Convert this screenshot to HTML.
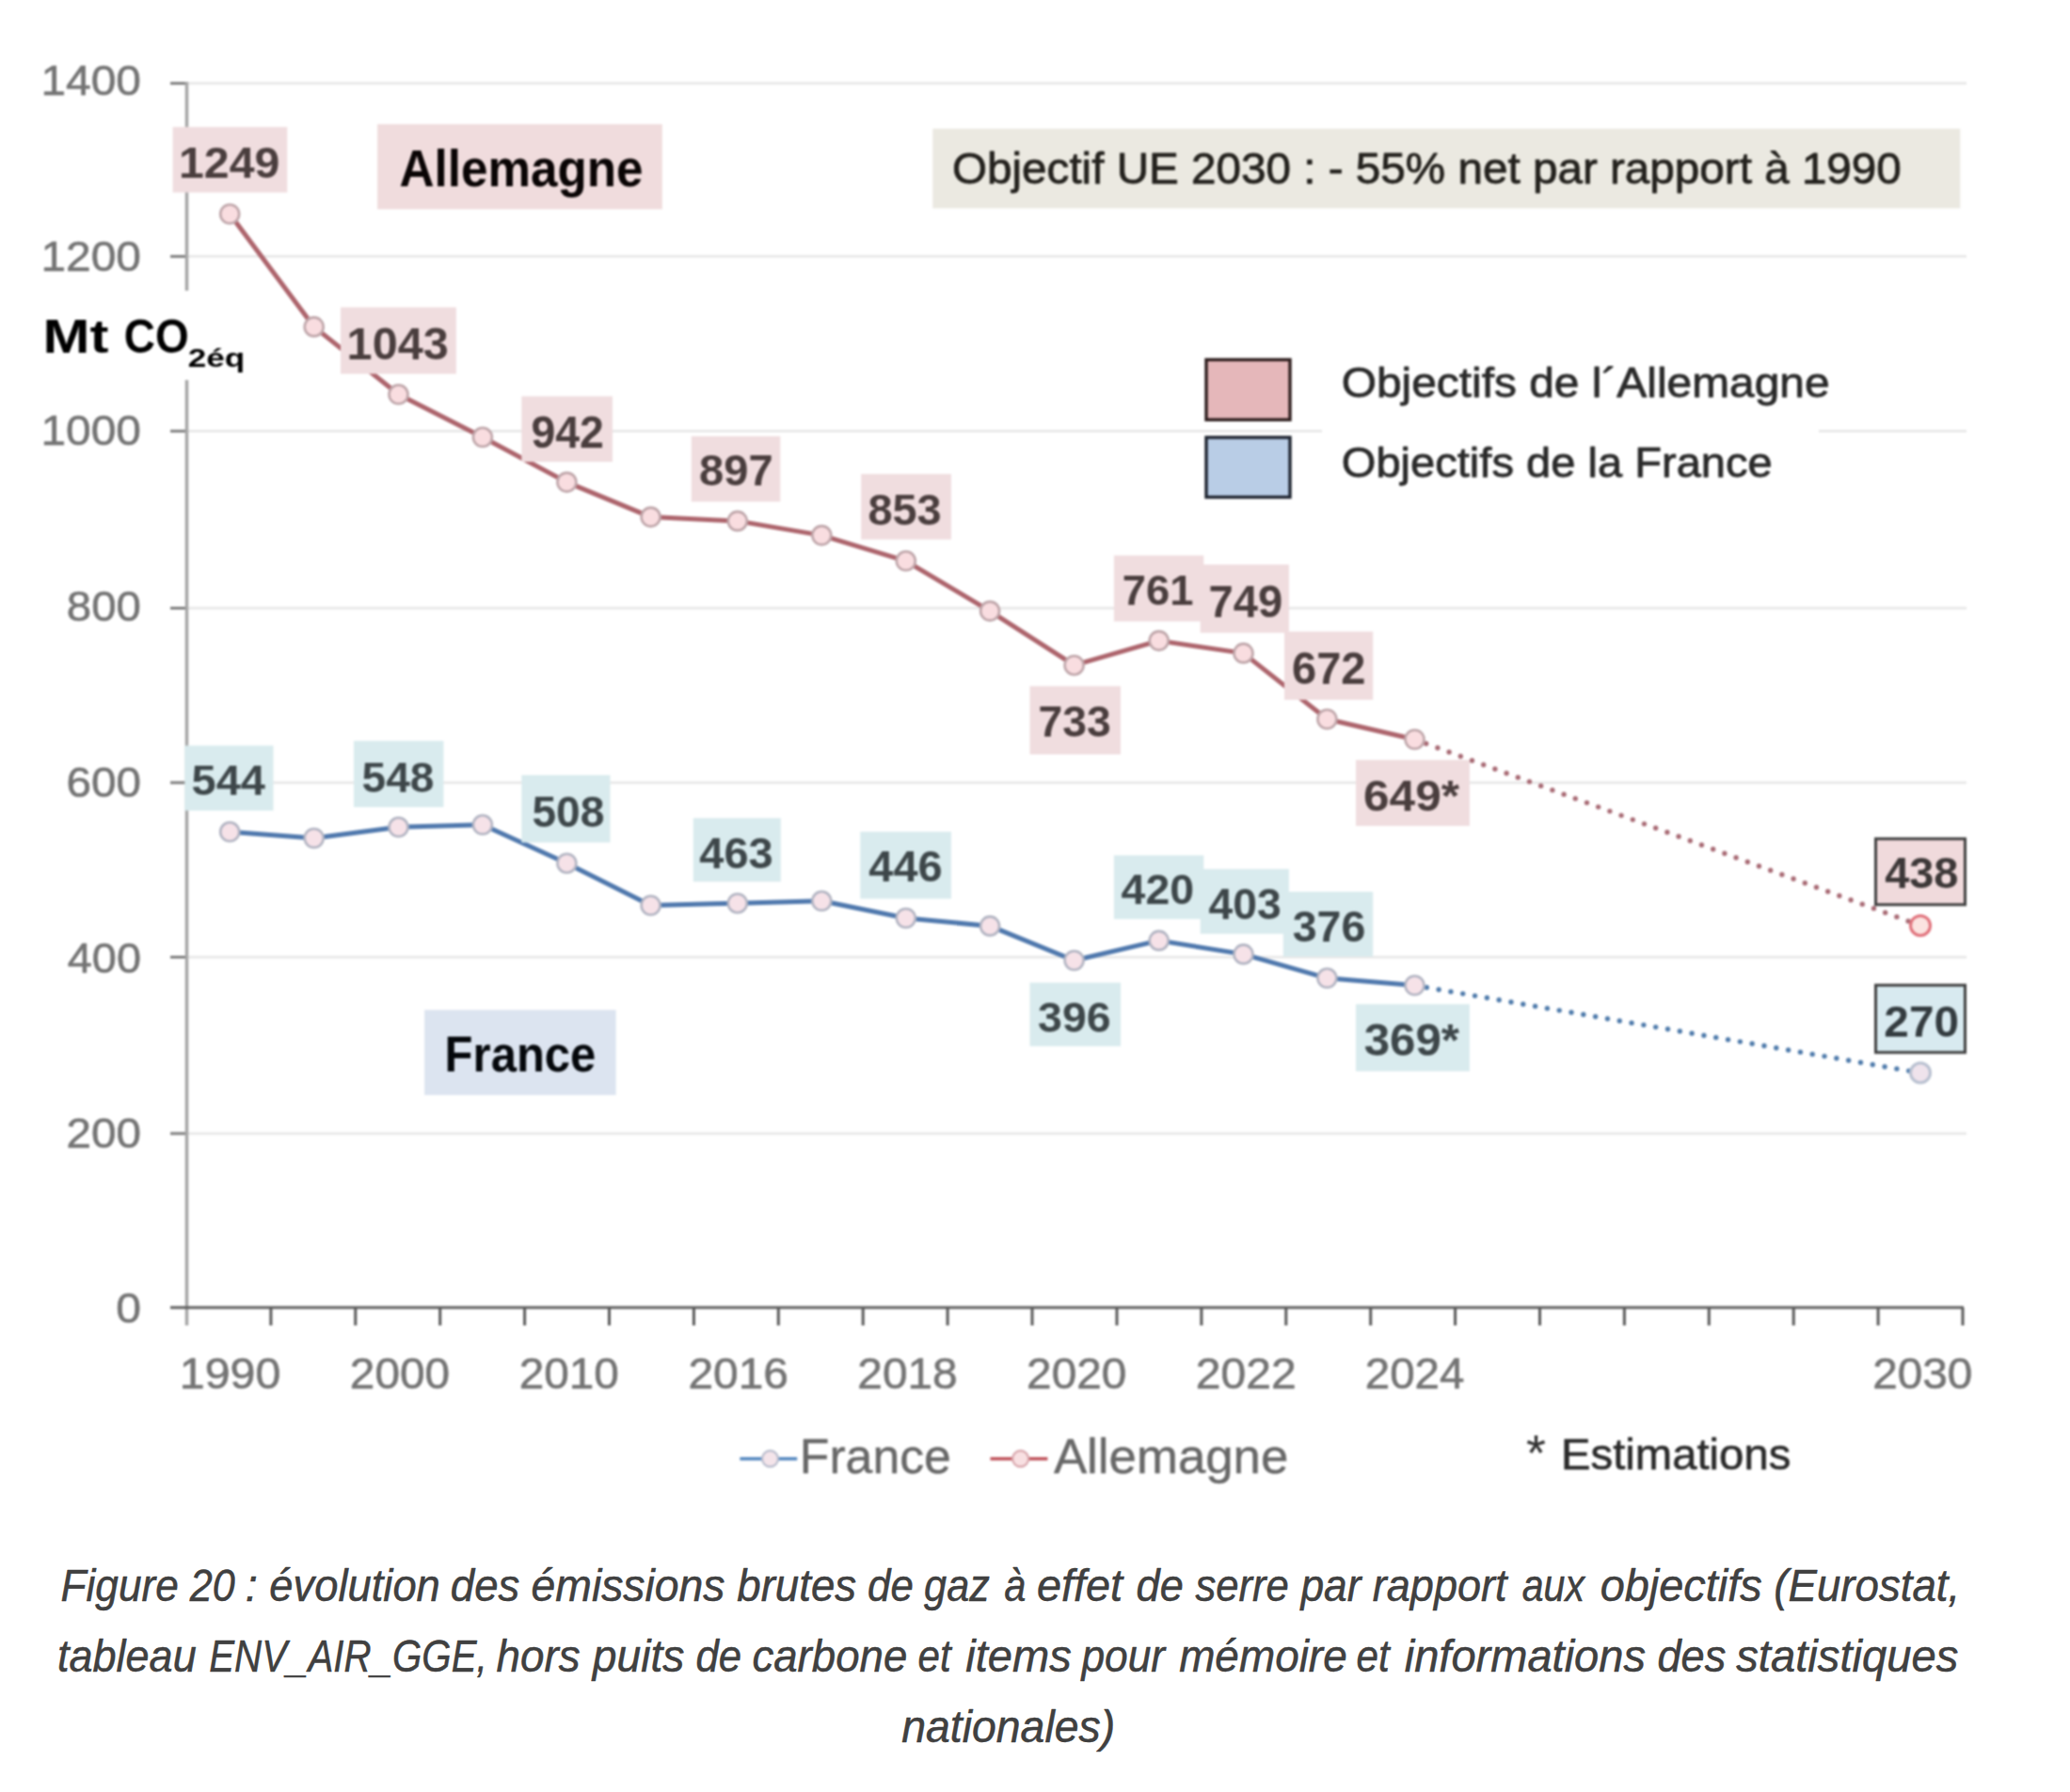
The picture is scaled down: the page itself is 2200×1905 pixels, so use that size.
<!DOCTYPE html>
<html><head><meta charset="utf-8"><style>
html,body{margin:0;padding:0;background:#ffffff;}
body{width:2200px;height:1905px;overflow:hidden;position:relative;}
svg{display:block;position:absolute;left:0;top:0;font-family:"Liberation Sans",sans-serif;}
#chart{filter:blur(1.2px);}
</style></head><body>
<svg id="chart" width="2200" height="1905" viewBox="0 0 2200 1905">
<rect width="2200" height="1905" fill="#ffffff"/>
<line x1="198.5" y1="88.6" x2="2090" y2="88.6" stroke="#e6e6e6" stroke-width="2.5"/>
<line x1="181" y1="88.6" x2="198.5" y2="88.6" stroke="#7f7f7f" stroke-width="3"/>
<line x1="198.5" y1="272.6" x2="2090" y2="272.6" stroke="#e6e6e6" stroke-width="2.5"/>
<line x1="181" y1="272.6" x2="198.5" y2="272.6" stroke="#7f7f7f" stroke-width="3"/>
<line x1="198.5" y1="458.3" x2="2090" y2="458.3" stroke="#e6e6e6" stroke-width="2.5"/>
<line x1="181" y1="458.3" x2="198.5" y2="458.3" stroke="#7f7f7f" stroke-width="3"/>
<line x1="198.5" y1="646.5" x2="2090" y2="646.5" stroke="#e6e6e6" stroke-width="2.5"/>
<line x1="181" y1="646.5" x2="198.5" y2="646.5" stroke="#7f7f7f" stroke-width="3"/>
<line x1="198.5" y1="832.0" x2="2090" y2="832.0" stroke="#e6e6e6" stroke-width="2.5"/>
<line x1="181" y1="832.0" x2="198.5" y2="832.0" stroke="#7f7f7f" stroke-width="3"/>
<line x1="198.5" y1="1017.5" x2="2090" y2="1017.5" stroke="#e6e6e6" stroke-width="2.5"/>
<line x1="181" y1="1017.5" x2="198.5" y2="1017.5" stroke="#7f7f7f" stroke-width="3"/>
<line x1="198.5" y1="1205.0" x2="2090" y2="1205.0" stroke="#e6e6e6" stroke-width="2.5"/>
<line x1="181" y1="1205.0" x2="198.5" y2="1205.0" stroke="#7f7f7f" stroke-width="3"/>
<line x1="198.5" y1="87" x2="198.5" y2="1409" stroke="#a6a6a6" stroke-width="3.5"/>
<line x1="181" y1="1390.0" x2="2087" y2="1390.0" stroke="#606060" stroke-width="3"/>
<line x1="287.9" y1="1390.0" x2="287.9" y2="1409" stroke="#5a5a5a" stroke-width="3"/>
<line x1="377.8" y1="1390.0" x2="377.8" y2="1409" stroke="#5a5a5a" stroke-width="3"/>
<line x1="467.7" y1="1390.0" x2="467.7" y2="1409" stroke="#5a5a5a" stroke-width="3"/>
<line x1="557.6" y1="1390.0" x2="557.6" y2="1409" stroke="#5a5a5a" stroke-width="3"/>
<line x1="647.5" y1="1390.0" x2="647.5" y2="1409" stroke="#5a5a5a" stroke-width="3"/>
<line x1="737.4" y1="1390.0" x2="737.4" y2="1409" stroke="#5a5a5a" stroke-width="3"/>
<line x1="827.3" y1="1390.0" x2="827.3" y2="1409" stroke="#5a5a5a" stroke-width="3"/>
<line x1="917.2" y1="1390.0" x2="917.2" y2="1409" stroke="#5a5a5a" stroke-width="3"/>
<line x1="1007.1" y1="1390.0" x2="1007.1" y2="1409" stroke="#5a5a5a" stroke-width="3"/>
<line x1="1097.0" y1="1390.0" x2="1097.0" y2="1409" stroke="#5a5a5a" stroke-width="3"/>
<line x1="1187.0" y1="1390.0" x2="1187.0" y2="1409" stroke="#5a5a5a" stroke-width="3"/>
<line x1="1276.9" y1="1390.0" x2="1276.9" y2="1409" stroke="#5a5a5a" stroke-width="3"/>
<line x1="1366.8" y1="1390.0" x2="1366.8" y2="1409" stroke="#5a5a5a" stroke-width="3"/>
<line x1="1456.7" y1="1390.0" x2="1456.7" y2="1409" stroke="#5a5a5a" stroke-width="3"/>
<line x1="1546.6" y1="1390.0" x2="1546.6" y2="1409" stroke="#5a5a5a" stroke-width="3"/>
<line x1="1636.5" y1="1390.0" x2="1636.5" y2="1409" stroke="#5a5a5a" stroke-width="3"/>
<line x1="1726.4" y1="1390.0" x2="1726.4" y2="1409" stroke="#5a5a5a" stroke-width="3"/>
<line x1="1816.3" y1="1390.0" x2="1816.3" y2="1409" stroke="#5a5a5a" stroke-width="3"/>
<line x1="1906.2" y1="1390.0" x2="1906.2" y2="1409" stroke="#5a5a5a" stroke-width="3"/>
<line x1="1996.1" y1="1390.0" x2="1996.1" y2="1409" stroke="#5a5a5a" stroke-width="3"/>
<line x1="2086.0" y1="1390.0" x2="2086.0" y2="1409" stroke="#5a5a5a" stroke-width="3"/>
<text x="43.45" y="100.80" font-size="45.20" textLength="106.52" lengthAdjust="spacingAndGlyphs" fill="#747474" stroke="#747474" stroke-width="0.60" stroke-linejoin="round" >1400</text>
<text x="43.45" y="287.80" font-size="45.20" textLength="106.52" lengthAdjust="spacingAndGlyphs" fill="#747474" stroke="#747474" stroke-width="0.60" stroke-linejoin="round" >1200</text>
<text x="43.45" y="473.40" font-size="45.20" textLength="106.52" lengthAdjust="spacingAndGlyphs" fill="#747474" stroke="#747474" stroke-width="0.60" stroke-linejoin="round" >1000</text>
<text x="70.84" y="660.40" font-size="45.20" textLength="79.11" lengthAdjust="spacingAndGlyphs" fill="#747474" stroke="#747474" stroke-width="0.60" stroke-linejoin="round" >800</text>
<text x="70.48" y="847.30" font-size="45.20" textLength="79.48" lengthAdjust="spacingAndGlyphs" fill="#747474" stroke="#747474" stroke-width="0.60" stroke-linejoin="round" >600</text>
<text x="71.83" y="1034.00" font-size="45.20" textLength="78.10" lengthAdjust="spacingAndGlyphs" fill="#747474" stroke="#747474" stroke-width="0.60" stroke-linejoin="round" >400</text>
<text x="70.50" y="1220.30" font-size="45.20" textLength="79.46" lengthAdjust="spacingAndGlyphs" fill="#747474" stroke="#747474" stroke-width="0.60" stroke-linejoin="round" >200</text>
<text x="123.22" y="1405.80" font-size="45.20" textLength="26.76" lengthAdjust="spacingAndGlyphs" fill="#747474" stroke="#747474" stroke-width="0.60" stroke-linejoin="round" >0</text>
<text x="190.77" y="1475.50" font-size="45.79" textLength="107.57" lengthAdjust="spacingAndGlyphs" fill="#747474" stroke="#747474" stroke-width="0.60" stroke-linejoin="round" >1990</text>
<text x="371.86" y="1475.50" font-size="45.79" textLength="106.27" lengthAdjust="spacingAndGlyphs" fill="#747474" stroke="#747474" stroke-width="0.60" stroke-linejoin="round" >2000</text>
<text x="551.67" y="1475.50" font-size="45.79" textLength="106.27" lengthAdjust="spacingAndGlyphs" fill="#747474" stroke="#747474" stroke-width="0.60" stroke-linejoin="round" >2010</text>
<text x="731.47" y="1475.50" font-size="45.79" textLength="106.51" lengthAdjust="spacingAndGlyphs" fill="#747474" stroke="#747474" stroke-width="0.60" stroke-linejoin="round" >2016</text>
<text x="911.28" y="1475.50" font-size="45.79" textLength="106.49" lengthAdjust="spacingAndGlyphs" fill="#747474" stroke="#747474" stroke-width="0.60" stroke-linejoin="round" >2018</text>
<text x="1091.10" y="1475.50" font-size="45.79" textLength="106.27" lengthAdjust="spacingAndGlyphs" fill="#747474" stroke="#747474" stroke-width="0.60" stroke-linejoin="round" >2020</text>
<text x="1270.89" y="1475.50" font-size="45.79" textLength="106.83" lengthAdjust="spacingAndGlyphs" fill="#747474" stroke="#747474" stroke-width="0.60" stroke-linejoin="round" >2022</text>
<text x="1450.73" y="1475.50" font-size="45.79" textLength="105.78" lengthAdjust="spacingAndGlyphs" fill="#747474" stroke="#747474" stroke-width="0.60" stroke-linejoin="round" >2024</text>
<text x="1990.15" y="1475.50" font-size="45.79" textLength="106.27" lengthAdjust="spacingAndGlyphs" fill="#747474" stroke="#747474" stroke-width="0.60" stroke-linejoin="round" >2030</text>
<line x1="1503.5" y1="786.0" x2="2041.0" y2="983.9" stroke="#a86a74" stroke-width="5.4" stroke-linecap="round" stroke-dasharray="0 13"/>
<line x1="1503.5" y1="1047.5" x2="2041.0" y2="1140.5" stroke="#4f7bab" stroke-width="5.4" stroke-linecap="round" stroke-dasharray="0 13"/>
<polyline fill="none" stroke="#ad646c" stroke-width="5" stroke-linejoin="round" points="244.2,227.5 333.7,347.4 423.5,419.3 512.9,464.8 602.4,512.6 691.6,549.6 783.8,553.9 873.3,569.1 962.8,596.3 1052.1,649.6 1141.6,707.2 1231.7,681.1 1321.5,694.4 1410.4,764.5 1503.5,786.0"/>
<polyline fill="none" stroke="#4f78ad" stroke-width="5" stroke-linejoin="round" points="244.2,884.3 333.7,891.0 423.5,879.3 512.9,876.8 602.4,917.7 691.6,962.5 783.8,960.2 873.3,957.8 962.8,976.0 1052.1,984.4 1141.6,1021.0 1231.7,999.9 1321.5,1014.4 1410.4,1039.8 1503.5,1047.5"/>
<circle cx="244.2" cy="227.5" r="10" fill="#f9dde0" stroke="#bfa6aa" stroke-width="2.6"/>
<circle cx="333.7" cy="347.4" r="10" fill="#f9dde0" stroke="#bfa6aa" stroke-width="2.6"/>
<circle cx="423.5" cy="419.3" r="10" fill="#f9dde0" stroke="#bfa6aa" stroke-width="2.6"/>
<circle cx="512.9" cy="464.8" r="10" fill="#f9dde0" stroke="#bfa6aa" stroke-width="2.6"/>
<circle cx="602.4" cy="512.6" r="10" fill="#f9dde0" stroke="#bfa6aa" stroke-width="2.6"/>
<circle cx="691.6" cy="549.6" r="10" fill="#f9dde0" stroke="#bfa6aa" stroke-width="2.6"/>
<circle cx="783.8" cy="553.9" r="10" fill="#f9dde0" stroke="#bfa6aa" stroke-width="2.6"/>
<circle cx="873.3" cy="569.1" r="10" fill="#f9dde0" stroke="#bfa6aa" stroke-width="2.6"/>
<circle cx="962.8" cy="596.3" r="10" fill="#f9dde0" stroke="#bfa6aa" stroke-width="2.6"/>
<circle cx="1052.1" cy="649.6" r="10" fill="#f9dde0" stroke="#bfa6aa" stroke-width="2.6"/>
<circle cx="1141.6" cy="707.2" r="10" fill="#f9dde0" stroke="#bfa6aa" stroke-width="2.6"/>
<circle cx="1231.7" cy="681.1" r="10" fill="#f9dde0" stroke="#bfa6aa" stroke-width="2.6"/>
<circle cx="1321.5" cy="694.4" r="10" fill="#f9dde0" stroke="#bfa6aa" stroke-width="2.6"/>
<circle cx="1410.4" cy="764.5" r="10" fill="#f9dde0" stroke="#bfa6aa" stroke-width="2.6"/>
<circle cx="1503.5" cy="786.0" r="10" fill="#f9dde0" stroke="#bfa6aa" stroke-width="2.6"/>
<circle cx="244.2" cy="884.3" r="10" fill="#f6e2e8" stroke="#b2b4c2" stroke-width="2.6"/>
<circle cx="333.7" cy="891.0" r="10" fill="#f6e2e8" stroke="#b2b4c2" stroke-width="2.6"/>
<circle cx="423.5" cy="879.3" r="10" fill="#f6e2e8" stroke="#b2b4c2" stroke-width="2.6"/>
<circle cx="512.9" cy="876.8" r="10" fill="#f6e2e8" stroke="#b2b4c2" stroke-width="2.6"/>
<circle cx="602.4" cy="917.7" r="10" fill="#f6e2e8" stroke="#b2b4c2" stroke-width="2.6"/>
<circle cx="691.6" cy="962.5" r="10" fill="#f6e2e8" stroke="#b2b4c2" stroke-width="2.6"/>
<circle cx="783.8" cy="960.2" r="10" fill="#f6e2e8" stroke="#b2b4c2" stroke-width="2.6"/>
<circle cx="873.3" cy="957.8" r="10" fill="#f6e2e8" stroke="#b2b4c2" stroke-width="2.6"/>
<circle cx="962.8" cy="976.0" r="10" fill="#f6e2e8" stroke="#b2b4c2" stroke-width="2.6"/>
<circle cx="1052.1" cy="984.4" r="10" fill="#f6e2e8" stroke="#b2b4c2" stroke-width="2.6"/>
<circle cx="1141.6" cy="1021.0" r="10" fill="#f6e2e8" stroke="#b2b4c2" stroke-width="2.6"/>
<circle cx="1231.7" cy="999.9" r="10" fill="#f6e2e8" stroke="#b2b4c2" stroke-width="2.6"/>
<circle cx="1321.5" cy="1014.4" r="10" fill="#f6e2e8" stroke="#b2b4c2" stroke-width="2.6"/>
<circle cx="1410.4" cy="1039.8" r="10" fill="#f6e2e8" stroke="#b2b4c2" stroke-width="2.6"/>
<circle cx="1503.5" cy="1047.5" r="10" fill="#f6e2e8" stroke="#b2b4c2" stroke-width="2.6"/>
<circle cx="2041.0" cy="983.9" r="10.5" fill="#fbe3e0" stroke="#e0707a" stroke-width="3"/>
<circle cx="2041.0" cy="1140.5" r="10.5" fill="#efe3ec" stroke="#b8c0d0" stroke-width="3"/>
<rect x="183.6" y="135.0" width="121.7" height="69.6" fill="#f0dddf"/>
<text x="189.96" y="189.00" font-size="45.79" textLength="107.43" lengthAdjust="spacingAndGlyphs" fill="#4a3e3e" font-weight="bold" >1249</text>
<rect x="362.0" y="326.7" width="122.8" height="70.7" fill="#f0dddf"/>
<text x="368.64" y="382.20" font-size="48.26" textLength="108.12" lengthAdjust="spacingAndGlyphs" fill="#4a3e3e" font-weight="bold" >1043</text>
<rect x="554.3" y="421.3" width="96.7" height="69.6" fill="#f0dddf"/>
<text x="564.39" y="475.60" font-size="48.11" textLength="77.47" lengthAdjust="spacingAndGlyphs" fill="#4a3e3e" font-weight="bold" >942</text>
<rect x="734.8" y="463.7" width="94.5" height="69.6" fill="#f0dddf"/>
<text x="743.11" y="515.90" font-size="47.09" textLength="78.56" lengthAdjust="spacingAndGlyphs" fill="#4a3e3e" font-weight="bold" >897</text>
<rect x="915.2" y="503.9" width="95.7" height="69.6" fill="#f0dddf"/>
<text x="922.51" y="558.30" font-size="46.66" textLength="78.18" lengthAdjust="spacingAndGlyphs" fill="#4a3e3e" font-weight="bold" >853</text>
<rect x="1094.5" y="729.4" width="96.5" height="72.5" fill="#f0dddf"/>
<text x="1103.41" y="782.60" font-size="46.66" textLength="77.26" lengthAdjust="spacingAndGlyphs" fill="#4a3e3e" font-weight="bold" >733</text>
<rect x="1183.9" y="590.5" width="95.4" height="70.1" fill="#f0dddf"/>
<text x="1192.75" y="642.50" font-size="45.06" textLength="75.71" lengthAdjust="spacingAndGlyphs" fill="#4a3e3e" font-weight="bold" >761</text>
<rect x="1275.7" y="600.2" width="94.2" height="72.5" fill="#f0dddf"/>
<text x="1284.47" y="655.70" font-size="48.26" textLength="78.68" lengthAdjust="spacingAndGlyphs" fill="#4a3e3e" font-weight="bold" >749</text>
<rect x="1365.0" y="671.4" width="94.2" height="72.5" fill="#f0dddf"/>
<text x="1372.98" y="727.00" font-size="48.40" textLength="78.51" lengthAdjust="spacingAndGlyphs" fill="#4a3e3e" font-weight="bold" >672</text>
<rect x="1441.0" y="807.9" width="120.9" height="70.1" fill="#f0dddf"/>
<text x="1448.98" y="862.30" font-size="46.66" textLength="102.06" lengthAdjust="spacingAndGlyphs" fill="#4a3e3e" font-weight="bold" >649*</text>
<rect x="196.3" y="792.6" width="94.2" height="69.1" fill="#d9ebee"/>
<text x="203.55" y="845.40" font-size="44.91" textLength="78.40" lengthAdjust="spacingAndGlyphs" fill="#3e474a" font-weight="bold" >544</text>
<rect x="376.0" y="787.6" width="95.4" height="70.4" fill="#d9ebee"/>
<text x="384.58" y="841.60" font-size="45.20" textLength="76.83" lengthAdjust="spacingAndGlyphs" fill="#3e474a" font-weight="bold" >548</text>
<rect x="554.3" y="824.0" width="94.2" height="71.6" fill="#d9ebee"/>
<text x="565.38" y="879.30" font-size="46.80" textLength="77.04" lengthAdjust="spacingAndGlyphs" fill="#3e474a" font-weight="bold" >508</text>
<rect x="736.8" y="869.7" width="93.0" height="67.6" fill="#d9ebee"/>
<text x="743.29" y="922.80" font-size="46.66" textLength="78.41" lengthAdjust="spacingAndGlyphs" fill="#3e474a" font-weight="bold" >463</text>
<rect x="914.3" y="884.2" width="96.6" height="71.2" fill="#d9ebee"/>
<text x="923.29" y="937.30" font-size="46.66" textLength="78.41" lengthAdjust="spacingAndGlyphs" fill="#3e474a" font-weight="bold" >446</text>
<rect x="1094.5" y="1044.6" width="96.6" height="67.6" fill="#d9ebee"/>
<text x="1103.13" y="1096.50" font-size="45.06" textLength="77.55" lengthAdjust="spacingAndGlyphs" fill="#3e474a" font-weight="bold" >396</text>
<rect x="1183.9" y="909.3" width="95.4" height="67.7" fill="#d9ebee"/>
<text x="1191.60" y="961.30" font-size="44.91" textLength="77.51" lengthAdjust="spacingAndGlyphs" fill="#3e474a" font-weight="bold" >420</text>
<rect x="1275.7" y="923.8" width="94.2" height="68.9" fill="#d9ebee"/>
<text x="1284.60" y="977.00" font-size="46.80" textLength="77.27" lengthAdjust="spacingAndGlyphs" fill="#3e474a" font-weight="bold" >403</text>
<rect x="1363.8" y="948.0" width="95.4" height="68.8" fill="#d9ebee"/>
<text x="1373.63" y="1001.00" font-size="46.51" textLength="77.65" lengthAdjust="spacingAndGlyphs" fill="#3e474a" font-weight="bold" >376</text>
<rect x="1441.0" y="1067.5" width="120.9" height="71.3" fill="#d9ebee"/>
<text x="1449.67" y="1121.90" font-size="48.55" textLength="101.38" lengthAdjust="spacingAndGlyphs" fill="#3e474a" font-weight="bold" >369*</text>
<rect x="1993.5" y="891.7" width="95" height="70" fill="#f0dadc" stroke="#404040" stroke-width="3"/>
<text x="2003.19" y="944.30" font-size="46.22" textLength="78.25" lengthAdjust="spacingAndGlyphs" fill="#3d3838" font-weight="bold" >438</text>
<rect x="1993.5" y="1047.3" width="95" height="71.5" fill="#d8eaf0" stroke="#404040" stroke-width="3"/>
<text x="2002.35" y="1101.60" font-size="46.08" textLength="79.61" lengthAdjust="spacingAndGlyphs" fill="#343c40" font-weight="bold" >270</text>
<rect x="40" y="309" width="225" height="95" fill="#ffffff"/>
<text x="45.59" y="375.40" font-size="50.58" textLength="69.95" lengthAdjust="spacingAndGlyphs" fill="#000" font-weight="bold" >Mt</text>
<text x="131.71" y="375.40" font-size="50.58" textLength="69.02" lengthAdjust="spacingAndGlyphs" fill="#000" font-weight="bold" >CO</text>
<text x="199.78" y="389.90" font-size="26.74" textLength="60.57" lengthAdjust="spacingAndGlyphs" fill="#000" font-weight="bold" >2éq</text>
<rect x="401.1" y="132" width="302.7" height="90.4" fill="#f0dcdd"/>
<text x="424.42" y="197.90" font-size="55.23" textLength="259.13" lengthAdjust="spacingAndGlyphs" fill="#0a0505" font-weight="bold" >Allemagne</text>
<rect x="451.1" y="1073.6" width="203.5" height="90.5" fill="#dce4f0"/>
<text x="472.62" y="1139.40" font-size="54.51" textLength="160.75" lengthAdjust="spacingAndGlyphs" fill="#05080c" font-weight="bold" >France</text>
<rect x="991.3" y="136.8" width="1092" height="84.6" fill="#ebe9e1"/>
<text x="1011.94" y="194.90" font-size="46.37" textLength="1008.92" lengthAdjust="spacingAndGlyphs" fill="#24221e" stroke="#24221e" stroke-width="0.80" stroke-linejoin="round" >Objectif UE 2030 : - 55% net par rapport à 1990</text>
<rect x="1405" y="452" width="528" height="12" fill="#ffffff"/>
<rect x="1282" y="382.4" width="89" height="63.8" fill="#e5b7ba" stroke="#2e1e1e" stroke-width="3.4"/>
<rect x="1282" y="465" width="89" height="63.5" fill="#b9cde6" stroke="#1e2430" stroke-width="3.4"/>
<text x="1425.73" y="422.10" font-size="44.62" textLength="518.79" lengthAdjust="spacingAndGlyphs" fill="#2a2a2a" stroke="#2a2a2a" stroke-width="0.80" stroke-linejoin="round" >Objectifs de l´Allemagne</text>
<text x="1425.77" y="506.60" font-size="44.48" textLength="458.02" lengthAdjust="spacingAndGlyphs" fill="#2a2a2a" stroke="#2a2a2a" stroke-width="0.80" stroke-linejoin="round" >Objectifs de la France</text>
<line x1="786.4" y1="1550.7" x2="847.2" y2="1550.7" stroke="#5588c0" stroke-width="3.6"/>
<circle cx="818.5" cy="1550.7" r="8.5" fill="#f4e4ea" stroke="#b8bccc" stroke-width="2.2"/>
<text x="849.75" y="1566.00" font-size="52.62" textLength="161.15" lengthAdjust="spacingAndGlyphs" fill="#686868" stroke="#686868" stroke-width="0.40" stroke-linejoin="round" >France</text>
<line x1="1052.5" y1="1550.7" x2="1113.4" y2="1550.7" stroke="#c0545c" stroke-width="3.6"/>
<circle cx="1084.6" cy="1550.7" r="8.5" fill="#f8e0e2" stroke="#d8a6ac" stroke-width="2.2"/>
<text x="1119.90" y="1566.00" font-size="52.62" textLength="249.45" lengthAdjust="spacingAndGlyphs" fill="#686868" stroke="#686868" stroke-width="0.40" stroke-linejoin="round" >Allemagne</text>
<text x="1622.1" y="1562.6" font-size="53.8" fill="#303030">*</text>
<text x="1659.12" y="1562.10" font-size="46.37" textLength="244.18" lengthAdjust="spacingAndGlyphs" fill="#2a2a2a" stroke="#2a2a2a" stroke-width="0.60" stroke-linejoin="round" >Estimations</text>
</svg>
<svg id="cap" width="2200" height="1905" viewBox="0 0 2200 1905">
<text x="64.54" y="1701.80" font-size="47.24" textLength="125.30" lengthAdjust="spacingAndGlyphs" fill="#404040" font-style="italic" stroke="#404040" stroke-width="0.50" stroke-linejoin="round" >Figure</text>
<text x="201.65" y="1701.80" font-size="47.24" textLength="48.01" lengthAdjust="spacingAndGlyphs" fill="#404040" font-style="italic" stroke="#404040" stroke-width="0.50" stroke-linejoin="round" >20</text>
<text x="260.64" y="1701.80" font-size="47.24" textLength="13.03" lengthAdjust="spacingAndGlyphs" fill="#404040" font-style="italic" stroke="#404040" stroke-width="0.50" stroke-linejoin="round" >:</text>
<text x="286.27" y="1701.80" font-size="47.24" textLength="181.59" lengthAdjust="spacingAndGlyphs" fill="#404040" font-style="italic" stroke="#404040" stroke-width="0.50" stroke-linejoin="round" >évolution</text>
<text x="478.87" y="1701.80" font-size="47.24" textLength="73.37" lengthAdjust="spacingAndGlyphs" fill="#404040" font-style="italic" stroke="#404040" stroke-width="0.50" stroke-linejoin="round" >des</text>
<text x="564.54" y="1701.80" font-size="47.24" textLength="206.01" lengthAdjust="spacingAndGlyphs" fill="#404040" font-style="italic" stroke="#404040" stroke-width="0.50" stroke-linejoin="round" >émissions</text>
<text x="783.25" y="1701.80" font-size="47.24" textLength="126.88" lengthAdjust="spacingAndGlyphs" fill="#404040" font-style="italic" stroke="#404040" stroke-width="0.50" stroke-linejoin="round" >brutes</text>
<text x="922.02" y="1701.80" font-size="47.24" textLength="48.81" lengthAdjust="spacingAndGlyphs" fill="#404040" font-style="italic" stroke="#404040" stroke-width="0.50" stroke-linejoin="round" >de</text>
<text x="982.12" y="1701.80" font-size="47.24" textLength="69.78" lengthAdjust="spacingAndGlyphs" fill="#404040" font-style="italic" stroke="#404040" stroke-width="0.50" stroke-linejoin="round" >gaz</text>
<text x="1067.25" y="1701.80" font-size="47.24" textLength="23.05" lengthAdjust="spacingAndGlyphs" fill="#404040" font-style="italic" stroke="#404040" stroke-width="0.50" stroke-linejoin="round" >à</text>
<text x="1101.92" y="1701.80" font-size="47.24" textLength="91.25" lengthAdjust="spacingAndGlyphs" fill="#404040" font-style="italic" stroke="#404040" stroke-width="0.50" stroke-linejoin="round" >effet</text>
<text x="1207.58" y="1701.80" font-size="47.24" textLength="50.20" lengthAdjust="spacingAndGlyphs" fill="#404040" font-style="italic" stroke="#404040" stroke-width="0.50" stroke-linejoin="round" >de</text>
<text x="1270.39" y="1701.80" font-size="47.24" textLength="99.53" lengthAdjust="spacingAndGlyphs" fill="#404040" font-style="italic" stroke="#404040" stroke-width="0.50" stroke-linejoin="round" >serre</text>
<text x="1382.40" y="1701.80" font-size="47.24" textLength="64.01" lengthAdjust="spacingAndGlyphs" fill="#404040" font-style="italic" stroke="#404040" stroke-width="0.50" stroke-linejoin="round" >par</text>
<text x="1458.85" y="1701.80" font-size="47.24" textLength="142.59" lengthAdjust="spacingAndGlyphs" fill="#404040" font-style="italic" stroke="#404040" stroke-width="0.50" stroke-linejoin="round" >rapport</text>
<text x="1617.78" y="1701.80" font-size="47.24" textLength="66.22" lengthAdjust="spacingAndGlyphs" fill="#404040" font-style="italic" stroke="#404040" stroke-width="0.50" stroke-linejoin="round" >aux</text>
<text x="1700.67" y="1701.80" font-size="47.24" textLength="172.10" lengthAdjust="spacingAndGlyphs" fill="#404040" font-style="italic" stroke="#404040" stroke-width="0.50" stroke-linejoin="round" >objectifs</text>
<text x="1885.26" y="1701.80" font-size="47.24" textLength="197.95" lengthAdjust="spacingAndGlyphs" fill="#404040" font-style="italic" stroke="#404040" stroke-width="0.50" stroke-linejoin="round" >(Eurostat,</text>
<text x="60.95" y="1776.60" font-size="47.24" textLength="147.75" lengthAdjust="spacingAndGlyphs" fill="#404040" font-style="italic" stroke="#404040" stroke-width="0.50" stroke-linejoin="round" >tableau</text>
<text x="222.26" y="1776.60" font-size="47.24" textLength="295.52" lengthAdjust="spacingAndGlyphs" fill="#404040" font-style="italic" stroke="#404040" stroke-width="0.50" stroke-linejoin="round" >ENV_AIR_GGE,</text>
<text x="527.54" y="1776.60" font-size="47.24" textLength="89.10" lengthAdjust="spacingAndGlyphs" fill="#404040" font-style="italic" stroke="#404040" stroke-width="0.50" stroke-linejoin="round" >hors</text>
<text x="629.85" y="1776.60" font-size="47.24" textLength="97.60" lengthAdjust="spacingAndGlyphs" fill="#404040" font-style="italic" stroke="#404040" stroke-width="0.50" stroke-linejoin="round" >puits</text>
<text x="739.42" y="1776.60" font-size="47.24" textLength="48.70" lengthAdjust="spacingAndGlyphs" fill="#404040" font-style="italic" stroke="#404040" stroke-width="0.50" stroke-linejoin="round" >de</text>
<text x="799.41" y="1776.60" font-size="47.24" textLength="164.89" lengthAdjust="spacingAndGlyphs" fill="#404040" font-style="italic" stroke="#404040" stroke-width="0.50" stroke-linejoin="round" >carbone</text>
<text x="975.58" y="1776.60" font-size="47.24" textLength="35.16" lengthAdjust="spacingAndGlyphs" fill="#404040" font-style="italic" stroke="#404040" stroke-width="0.50" stroke-linejoin="round" >et</text>
<text x="1026.24" y="1776.60" font-size="47.24" textLength="112.52" lengthAdjust="spacingAndGlyphs" fill="#404040" font-style="italic" stroke="#404040" stroke-width="0.50" stroke-linejoin="round" >items</text>
<text x="1149.40" y="1776.60" font-size="47.24" textLength="88.70" lengthAdjust="spacingAndGlyphs" fill="#404040" font-style="italic" stroke="#404040" stroke-width="0.50" stroke-linejoin="round" >pour</text>
<text x="1253.14" y="1776.60" font-size="47.24" textLength="178.57" lengthAdjust="spacingAndGlyphs" fill="#404040" font-style="italic" stroke="#404040" stroke-width="0.50" stroke-linejoin="round" >mémoire</text>
<text x="1441.58" y="1776.60" font-size="47.24" textLength="35.26" lengthAdjust="spacingAndGlyphs" fill="#404040" font-style="italic" stroke="#404040" stroke-width="0.50" stroke-linejoin="round" >et</text>
<text x="1492.74" y="1776.60" font-size="47.24" textLength="256.22" lengthAdjust="spacingAndGlyphs" fill="#404040" font-style="italic" stroke="#404040" stroke-width="0.50" stroke-linejoin="round" >informations</text>
<text x="1761.48" y="1776.60" font-size="47.24" textLength="72.85" lengthAdjust="spacingAndGlyphs" fill="#404040" font-style="italic" stroke="#404040" stroke-width="0.50" stroke-linejoin="round" >des</text>
<text x="1845.28" y="1776.60" font-size="47.24" textLength="236.18" lengthAdjust="spacingAndGlyphs" fill="#404040" font-style="italic" stroke="#404040" stroke-width="0.50" stroke-linejoin="round" >statistiques</text>
<text x="958.23" y="1851.50" font-size="47.24" textLength="226.93" lengthAdjust="spacingAndGlyphs" fill="#404040" font-style="italic" stroke="#404040" stroke-width="0.50" stroke-linejoin="round" >nationales)</text>
</svg>
</body></html>
